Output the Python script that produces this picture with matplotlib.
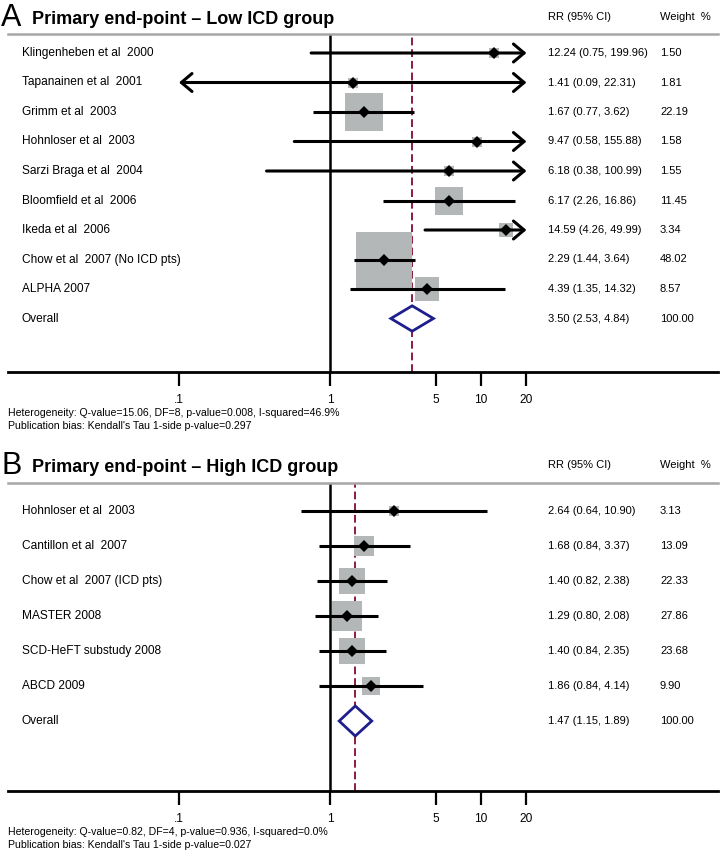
import numpy as np
import matplotlib
matplotlib.use("Agg")
import matplotlib.pyplot as plt
from matplotlib.transforms import blended_transform_factory

plt.rcParams['font.family'] = ['Liberation Sans', 'DejaVu Sans']

# ---------------- data ----------------
studies_a = ["Klingenheben et al  2000", "Tapanainen et al  2001", "Grimm et al  2003",
             "Hohnloser et al  2003", "Sarzi Braga et al  2004", "Bloomfield et al  2006",
             "Ikeda et al  2006", "Chow et al  2007 (No ICD pts)", "ALPHA 2007"]
rr_a = [12.24, 1.41, 1.67, 9.47, 6.18, 6.17, 14.59, 2.29, 4.39]
lo_a = [0.75, 0.09, 0.77, 0.58, 0.38, 2.26, 4.26, 1.44, 1.35]
hi_a = [199.96, 22.31, 3.62, 155.88, 100.99, 16.86, 49.99, 3.64, 14.32]
wt_a = [1.50, 1.81, 22.19, 1.58, 1.55, 11.45, 3.34, 48.02, 8.57]
overall_a = [3.50, 2.53, 4.84]
wt_overall_a = 100.00
foot_a = ["Heterogeneity: Q-value=15.06, DF=8, p-value=0.008, I-squared=46.9%",
          "Publication bias: Kendall's Tau 1-side p-value=0.297"]

studies_b = ["Hohnloser et al  2003", "Cantillon et al  2007", "Chow et al  2007 (ICD pts)",
             "MASTER 2008", "SCD-HeFT substudy 2008", "ABCD 2009"]
rr_b = [2.64, 1.68, 1.40, 1.29, 1.40, 1.86]
lo_b = [0.64, 0.84, 0.82, 0.80, 0.84, 0.84]
hi_b = [10.90, 3.37, 2.38, 2.08, 2.35, 4.14]
wt_b = [3.13, 13.09, 22.33, 27.86, 23.68, 9.90]
overall_b = [1.47, 1.15, 1.89]
wt_overall_b = 100.00
foot_b = ["Heterogeneity: Q-value=0.82, DF=4, p-value=0.936, I-squared=0.0%",
          "Publication bias: Kendall's Tau 1-side p-value=0.027"]

tick_vals = [0.1, 1, 5, 10, 20]
tick_labels = [".1", "1", "5", "10", "20"]

# ---------------- style ----------------
W, H = 720, 852
CLIP_LO, CLIP_HI = 0.1, 20
X_ONE_PX = 330.0
PX_PER_DEC = 151.0
AX_L, AX_R = 8, 718
BOX_C = '#b3b7b7'
DASH_C = '#8b1c3c'
DIAM_C = '#1e1e8c'
FS = 8
FS_LAB = 8.6

fig = plt.figure(figsize=(W / 100, H / 100), dpi=100)


def panel(letter, title, studies, rr, lo, hi, wt, overall, wt_ov, foot,
          top_px, bot_px, row0_px, row_sp, box_k, title_px, foot_px):
    ax = fig.add_axes([AX_L / W, 1 - bot_px / H, (AX_R - AX_L) / W, (bot_px - top_px) / H])
    ax.set_xscale('log')
    ax.set_xlim(10 ** ((AX_L - X_ONE_PX) / PX_PER_DEC), 10 ** ((AX_R - X_ONE_PX) / PX_PER_DEC))
    ax.set_ylim((bot_px - row0_px) / row_sp, (top_px - row0_px) / row_sp)
    for s in ['left', 'right']:
        ax.spines[s].set_visible(False)
    ax.spines['top'].set_color('#a6a6a6')
    ax.spines['top'].set_linewidth(1.8)
    ax.spines['bottom'].set_linewidth(2.0)
    ax.set_yticks([])
    ax.set_xticks(tick_vals)
    ax.set_xticklabels(tick_labels, fontsize=FS_LAB)
    ax.xaxis.set_minor_locator(matplotlib.ticker.NullLocator())
    ax.tick_params(axis='x', length=10, width=1.6, pad=6, direction='out')

    ax.axvline(1, color='black', lw=1.8, zorder=1)
    ax.axvline(overall[0], color=DASH_C, lw=1.4, dashes=(4, 2), zorder=1)

    n = len(studies)
    tr = blended_transform_factory(fig.transFigure, ax.transData)
    for i in range(n):
        ax.plot([rr[i]], [i], marker='s', ms=box_k * np.sqrt(wt[i]), color=BOX_C,
                mew=0, zorder=2, clip_on=False)
        l, h = max(lo[i], CLIP_LO), min(hi[i], CLIP_HI)
        left_arrow = lo[i] < CLIP_LO
        right_arrow = hi[i] > CLIP_HI
        if left_arrow or right_arrow:
            style = '<->' if (left_arrow and right_arrow) else '->'
            if left_arrow and not right_arrow:
                start, end = h, l
            else:
                start, end = l, h
            ax.annotate('', xy=(end, i), xytext=(start, i),
                        arrowprops=dict(arrowstyle=style + ',head_length=0.45,head_width=0.38',
                                        lw=2.2, color='black', shrinkA=0, shrinkB=0,
                                        mutation_scale=17),
                        zorder=3)
        else:
            ax.plot([l, h], [i, i], color='black', lw=2.2, solid_capstyle='butt', zorder=3)
        ax.plot([rr[i]], [i], marker='D', ms=6, color='black', mew=0, zorder=4)
        ax.text(22 / W, i, studies[i], transform=tr, fontsize=FS_LAB, va='center', ha='left')
        ax.text(548 / W, i, f"{rr[i]:.2f} ({lo[i]:.2f}, {hi[i]:.2f})", transform=tr,
                fontsize=FS, va='center', ha='left')
        ax.text(660 / W, i, f"{wt[i]:.2f}", transform=tr, fontsize=FS, va='center', ha='left')

    yo = n
    dh = 0.43
    ax.fill([overall[1], overall[0], overall[2], overall[0]], [yo, yo - dh, yo, yo + dh],
            facecolor='white', edgecolor=DIAM_C, lw=2.0, zorder=5)
    ax.text(22 / W, yo, "Overall", transform=tr, fontsize=FS_LAB, va='center', ha='left')
    ax.text(548 / W, yo, f"{overall[0]:.2f} ({overall[1]:.2f}, {overall[2]:.2f})",
            transform=tr, fontsize=FS, va='center', ha='left')
    ax.text(660 / W, yo, f"{wt_ov:.2f}", transform=tr, fontsize=FS, va='center', ha='left')

    fig.text(1 / W, 1 - title_px / H, letter, fontsize=22, va='center', ha='left')
    fig.text(32 / W, 1 - (title_px + 1) / H, title, fontsize=13, fontweight='bold',
             va='center', ha='left')
    fig.text(548 / W, 1 - (title_px - 1) / H, "RR (95% CI)", fontsize=FS, va='center', ha='left')
    fig.text(660 / W, 1 - (title_px - 1) / H, "Weight  %", fontsize=FS, va='center', ha='left')
    for k, line in enumerate(foot):
        fig.text(8 / W, 1 - (foot_px + 13 * k) / H, line, fontsize=7.6, va='center', ha='left')
    return ax


panel("A", "Primary end-point \u2013 Low ICD group", studies_a, rr_a, lo_a, hi_a, wt_a,
      overall_a, wt_overall_a, foot_a,
      top_px=34, bot_px=372, row0_px=53, row_sp=29.5, box_k=5.75, title_px=18, foot_px=413)
panel("B", "Primary end-point \u2013 High ICD group", studies_b, rr_b, lo_b, hi_b, wt_b,
      overall_b, wt_overall_b, foot_b,
      top_px=483, bot_px=791, row0_px=511, row_sp=35, box_k=3.96, title_px=466, foot_px=832)

fig.savefig("out.png", dpi=100)
